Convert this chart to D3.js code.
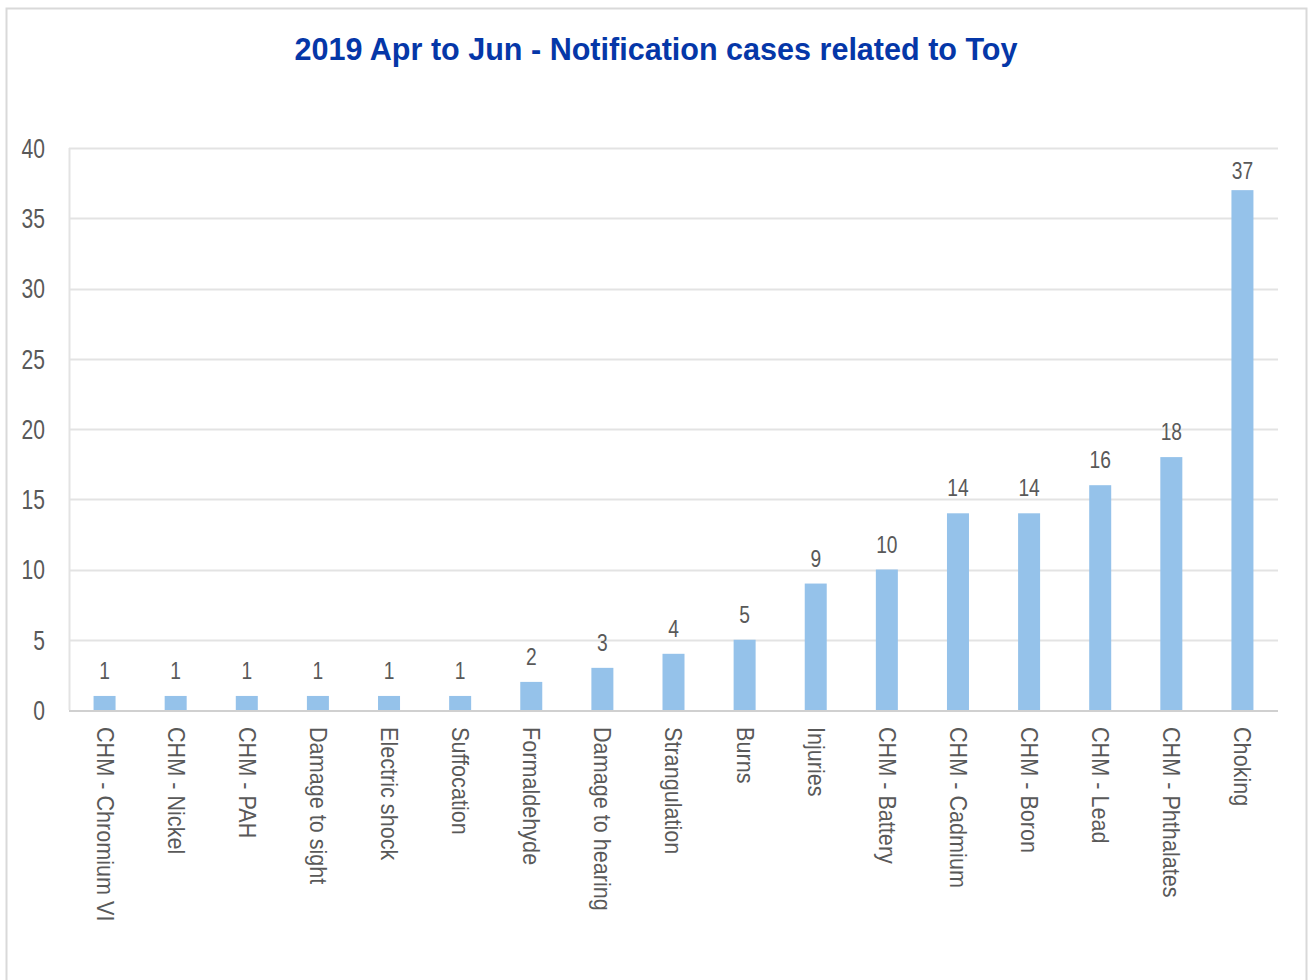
<!DOCTYPE html>
<html>
<head>
<meta charset="utf-8">
<script src="https://cdn.jsdelivr.net/npm/d3@7"></script>
<style>
  body { margin: 0; background: #fff; }
  svg text { font-family: "Liberation Sans Narrow", "Arial Narrow", "Liberation Sans", Arial, sans-serif; }
</style>
</head>
<body>
<div id="chart"></div>
<script>
/* chart values */
var categories = ["CHM - Chromium VI", "CHM - Nickel", "CHM - PAH", "Damage to sight",
  "Electric shock", "Suffocation", "Formaldehyde", "Damage to hearing", "Strangulation",
  "Burns", "Injuries", "CHM - Battery", "CHM - Cadmium", "CHM - Boron", "CHM - Lead",
  "CHM - Phthalates", "Choking"]
var cases = [1, 1, 1, 1, 1, 1, 2, 3, 4, 5, 9, 10, 14, 14, 16, 18, 37]
var yTicks = [0, 5, 10, 15, 20, 25, 30, 35, 40]
var titleText = "2019 Apr to Jun - Notification cases related to Toy"

var layout = {
  width: 1308,
  height: 980,
  left: 69,
  right: 1278,
  top: 148,
  bottom: 710,
  barWidth: 22,
  tickFont: 27, tickSx: 0.78,
  valFont: 24, valSx: 0.8, valGap: 17,
  catFont: 23, catSx: 0.94,
  titleFont: 31, titleLen: 723
}

var colors = {
  bar: "#95c2ea",
  grid: "#e3e3e3",
  axis: "#d0d0d0",
  text: "#595959",
  title: "#0537a8",
  border: "#d9d9d9"
}

var svg = d3.select("#chart").append("svg")
  .attr("width", layout.width)
  .attr("height", layout.height)

// outer frame (bottom edge is cut off in the original)
svg.append("path")
  .attr("d", "M6.5,980 L6.5,8.5 L1306.5,8.5 L1306.5,980")
  .attr("fill", "none")
  .attr("stroke", colors.border)
  .attr("stroke-width", 2)

var x = d3.scaleBand()
  .domain(categories)
  .range([layout.left, layout.right])

var y = d3.scaleLinear()
  .domain([0, 40])
  .range([layout.bottom, layout.top])

var xMid = function(c) { return x(c) + x.bandwidth() / 2 }

// gridlines
svg.selectAll(".grid").data(yTicks.filter(function(d) { return d > 0 })).enter()
  .append("line")
  .attr("class", "grid")
  .attr("x1", layout.left)
  .attr("x2", layout.right)
  .attr("y1", function(d) { return Math.round(y(d)) + 0.5 })
  .attr("y2", function(d) { return Math.round(y(d)) + 0.5 })
  .attr("stroke", colors.grid)
  .attr("stroke-width", 2)

// y axis line
svg.append("line")
  .attr("x1", layout.left + 0.5)
  .attr("x2", layout.left + 0.5)
  .attr("y1", layout.top)
  .attr("y2", layout.bottom)
  .attr("stroke", colors.grid)
  .attr("stroke-width", 2)

// y tick labels
var yAxis = svg.append("g")
  .attr("transform", "translate(" + (layout.left - 24) + ",0)")
  .call(d3.axisLeft(y).tickValues(yTicks).tickSize(0).tickPadding(0))
yAxis.select(".domain").remove()
yAxis.selectAll("text")
  .attr("fill", colors.text)
  .attr("x", 0)
  .attr("dy", "0.35em")
  .attr("transform", "scale(" + layout.tickSx + ",1)")
  .style("font-size", layout.tickFont + "px")

// bars
svg.selectAll(".bar").data(cases).enter()
  .append("rect")
  .attr("class", "bar")
  .attr("x", function(d, i) { return xMid(categories[i]) - layout.barWidth / 2 })
  .attr("y", function(d) { return y(d) })
  .attr("width", layout.barWidth)
  .attr("height", function(d) { return y(0) - y(d) })
  .attr("fill", colors.bar)

// baseline
svg.append("line")
  .attr("x1", layout.left)
  .attr("x2", layout.right)
  .attr("y1", layout.bottom + 1)
  .attr("y2", layout.bottom + 1)
  .attr("stroke", colors.axis)
  .attr("stroke-width", 2)

// value labels (kept inside the plot area at the top)
svg.selectAll(".valLabel").data(cases).enter()
  .append("text")
  .attr("class", "valLabel")
  .text(function(d) { return d })
  .attr("text-anchor", "middle")
  .attr("transform", function(d, i) {
    var by = Math.max(y(d) - layout.valGap, layout.top + 31)
    return "translate(" + xMid(categories[i]) + "," + by + ") scale(" + layout.valSx + ",1)"
  })
  .attr("fill", colors.text)
  .style("font-size", layout.valFont + "px")

// category labels, rotated to read top-down
svg.selectAll(".catLabel").data(categories).enter()
  .append("text")
  .attr("class", "catLabel")
  .text(function(d) { return d })
  .attr("transform", function(d) {
    return "translate(" + xMid(d) + "," + (layout.bottom + 17) + ") rotate(90) scale(" + layout.catSx + ",1)"
  })
  .attr("dy", "0.35em")
  .attr("fill", colors.text)
  .style("font-size", layout.catFont + "px")

// title
svg.append("text")
  .text(titleText)
  .attr("x", 656)
  .attr("y", 60)
  .attr("text-anchor", "middle")
  .attr("textLength", layout.titleLen)
  .attr("lengthAdjust", "spacingAndGlyphs")
  .attr("fill", colors.title)
  .style("font-size", layout.titleFont + "px")
  .style("font-weight", "bold")
</script>
</body>
</html>
